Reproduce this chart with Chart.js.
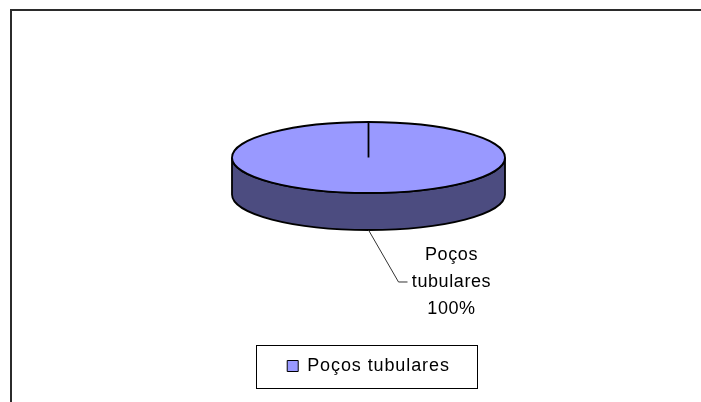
<!DOCTYPE html>
<html>
<head>
<meta charset="utf-8">
<script src="https://cdn.jsdelivr.net/npm/chart.js@4/dist/chart.umd.min.js"></script>
<style>
  html, body { margin: 0; padding: 0; background: #fff; }
  #wrap { width: 701px; height: 402px; }
</style>
</head>
<body>
<div id="wrap"><canvas id="myChart" width="701" height="402"></canvas></div>
<script>
// dados do grafico
const categorias = ['Poços tubulares'];
const valores = [100];
const cores = ['#9999FF'];
const coresLado = ['#4C4C80'];

// aparencia "3D" (inclinacao e espessura da pizza)
const centroY = 157.5;
const achatamento = 0.26;
const espessura = 37;
const fonte = "'Liberation Sans', Arial, sans-serif";

function geo(chart) {
    const arc = chart.getDatasetMeta(0).data[0];
    const rx = arc.outerRadius;
    return { arc: arc, cx: arc.x, cy: centroY, rx: rx, ry: rx * achatamento };
}

const pizza3d = {
    id: 'pizza3d',
    beforeLayout(chart) {
        chart.ctx.letterSpacing = '0.9px';
    },
    beforeDraw(chart) {
        const ctx = chart.ctx;
        ctx.letterSpacing = '0.9px';
        // moldura
        ctx.save();
        ctx.strokeStyle = '#2b2b2b';
        ctx.lineWidth = 2;
        ctx.strokeRect(11, 10, 760, 460);
        ctx.restore();
    },
    beforeDatasetsDraw(chart) {
        const ctx = chart.ctx;
        const g = geo(chart);
        // lateral
        ctx.save();
        ctx.beginPath();
        ctx.moveTo(g.cx - g.rx, g.cy);
        ctx.lineTo(g.cx - g.rx, g.cy + espessura);
        ctx.ellipse(g.cx, g.cy + espessura, g.rx, g.ry, 0, Math.PI, 0, true);
        ctx.lineTo(g.cx + g.rx, g.cy);
        ctx.ellipse(g.cx, g.cy, g.rx, g.ry, 0, 0, Math.PI, false);
        ctx.closePath();
        ctx.fillStyle = coresLado[0];
        ctx.fill();
        ctx.lineWidth = 1.8;
        ctx.strokeStyle = '#000';
        ctx.stroke();
        ctx.restore();
        // achata o topo desenhado pelo Chart.js
        ctx.save();
        ctx.translate(g.cx, g.cy);
        ctx.scale(1, achatamento);
        ctx.translate(-g.arc.x, -g.arc.y);
    },
    afterDatasetsDraw(chart) {
        const ctx = chart.ctx;
        ctx.restore();
        const g = geo(chart);
        ctx.save();
        ctx.lineWidth = 1.8;
        ctx.strokeStyle = '#000';
        ctx.beginPath();
        ctx.ellipse(g.cx, g.cy, g.rx, g.ry, 0, 0, Math.PI * 2);
        ctx.stroke();
        // divisao da fatia
        const a = g.arc.startAngle;
        ctx.beginPath();
        ctx.moveTo(g.cx, g.cy);
        ctx.lineTo(g.cx + g.rx * Math.cos(a), g.cy + g.ry * Math.sin(a));
        ctx.stroke();

        // rotulo com linha de chamada
        const meio = (g.arc.startAngle + g.arc.endAngle) / 2;
        const x0 = g.cx + g.rx * Math.cos(meio);
        const y0 = g.cy + g.ry * Math.sin(meio) + espessura;
        const x1 = x0 + 30, y1 = y0 + 52;
        ctx.lineWidth = 1;
        ctx.strokeStyle = '#333';
        ctx.beginPath();
        ctx.moveTo(x0, y0);
        ctx.lineTo(x1, y1);
        ctx.lineTo(x1 + 9, y1);
        ctx.stroke();

        const total = valores.reduce((s, v) => s + v, 0);
        const pct = Math.round(valores[0] / total * 100) + '%';
        const linhas = categorias[0].split(' ').concat([pct]);
        ctx.fillStyle = '#000';
        ctx.font = '18px ' + fonte;
        ctx.letterSpacing = '0.6px';
        ctx.textAlign = 'center';
        ctx.textBaseline = 'alphabetic';
        linhas.forEach((t, i) => {
            ctx.fillText(t, x1 + 53, y1 - 22 + i * 27);
        });
        ctx.restore();
    },
    afterDraw(chart) {
        // caixa da legenda
        const hb = chart.legend.legendHitBoxes[0];
        if (!hb) return;
        const ctx = chart.ctx;
        ctx.save();
        ctx.strokeStyle = '#000';
        ctx.lineWidth = 1;
        const meioY = hb.top + hb.height / 2;
        ctx.strokeRect(Math.round(hb.left - 31) + 0.5, Math.round(meioY - 21.5) + 0.5,
            Math.round(hb.width + 58), 43);
        ctx.restore();
    }
};

const config = {
    type: 'pie',
    data: {
        labels: categorias,
        datasets: [{
            data: valores,
            backgroundColor: cores,
            borderWidth: 0,
            radius: 136.5,
            clip: false
        }]
    },
    options: {
        responsive: false,
        animation: false,
        layout: { padding: { left: 36, right: 0, top: 0, bottom: 17 } },
        plugins: {
            tooltip: { enabled: false },
            legend: {
                position: 'bottom',
                labels: {
                    color: '#000',
                    font: { family: fonte, size: 18 },
                    boxWidth: 11,
                    boxHeight: 11,
                    padding: 10,
                    generateLabels(chart) {
                        const itens = Chart.overrides.pie.plugins.legend.labels.generateLabels(chart);
                        itens.forEach(it => { it.strokeStyle = '#000'; it.lineWidth = 1; });
                        return itens;
                    }
                }
            }
        }
    },
    plugins: [pizza3d]
};

const ctx = document.querySelector('#myChart').getContext('2d');
new Chart(ctx, config);
</script>
</body>
</html>
